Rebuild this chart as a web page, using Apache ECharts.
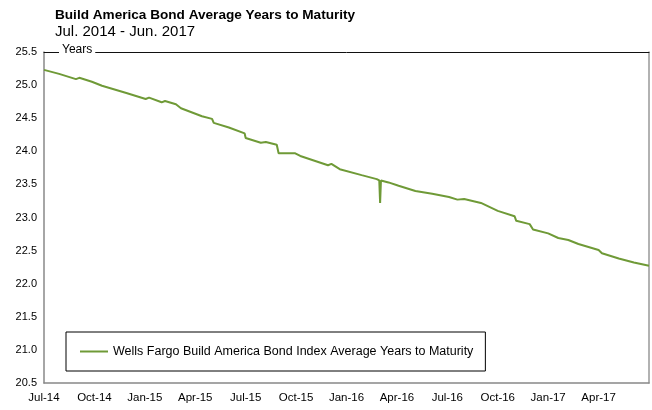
<!DOCTYPE html>
<html>
<head>
<meta charset="utf-8">
<script src="https://cdn.jsdelivr.net/npm/echarts@6/dist/echarts.min.js"></script>
<style>
  html, body { margin: 0; padding: 0; background: #fff; }
  #chart { width: 652px; height: 410px; }
</style>
</head>
<body>
<div id="chart"></div>
<script>
// months since Jul-2014 (0 = Jul 1 2014, 36 = Jul 1 2017)
const monthPos = [
  0, 0.9, 1.9, 2.1, 2.85, 3.45, 4.9, 6.05, 6.25, 7.0, 7.2, 7.85, 8.15, 9.4,
  10.0, 10.1, 11.0, 11.94, 12.0, 12.9, 13.2, 13.85, 13.96, 14.95, 15.25,
  16.9, 17.1, 17.6, 18.9, 19.8, 19.95, 20.0, 20.05, 20.5, 21.1, 22.1, 23.1,
  24.1, 24.6, 25.0, 26.0, 27.0, 28.0, 28.1, 28.9, 29.1, 30.0, 30.6, 31.2,
  31.8, 33.0, 33.2, 34.2, 35.1, 35.15, 36.0,
];
const avgYears = [
  25.23, 25.17, 25.09, 25.11, 25.05, 24.99, 24.88, 24.79, 24.81, 24.74, 24.76,
  24.71, 24.65, 24.53, 24.49, 24.43, 24.36, 24.27, 24.2, 24.13, 24.14, 24.1,
  23.97, 23.97, 23.93, 23.79, 23.81, 23.73, 23.64, 23.58, 23.56, 23.22, 23.56,
  23.53, 23.48, 23.4, 23.36, 23.31, 23.27, 23.28, 23.22, 23.1, 23.02, 22.95,
  22.9, 22.82, 22.76, 22.69, 22.66, 22.6, 22.51, 22.46, 22.38, 22.32, 22.34,
  22.27,
];
const tickLabels = [
  "Jul-14", "Oct-14", "Jan-15", "Apr-15", "Jul-15", "Oct-15",
  "Jan-16", "Apr-16", "Jul-16", "Oct-16", "Jan-17", "Apr-17",
];
const seriesName = "Wells Fargo Build America Bond Index Average Years to Maturity";

const chart = echarts.init(document.getElementById("chart"));
const data = monthPos.map((m, i) => [m, avgYears[i]]);
const green = "#6f9a37";

chart.setOption({
  animation: false,
  title: {
    text: "Build America Bond Average Years to Maturity",
    subtext: "Jul. 2014 - Jun. 2017",
    left: 50,
    top: 3,
    itemGap: 2,
    textStyle: { fontFamily: "Arial, Liberation Sans", fontSize: 13.6, fontWeight: "bold", color: "#000" },
    subtextStyle: { fontFamily: "Arial, Liberation Sans", fontSize: 15, color: "#000" },
  },
  grid: { left: 44, right: 2, top: 52, bottom: 27 },
  legend: {
    left: 66,
    top: 332,
    padding: [13, 12, 13, 14],
    borderColor: "#000",
    borderWidth: 1,
    itemWidth: 28,
    itemHeight: 2,
    icon: "rect",
    textStyle: { fontFamily: "Arial, Liberation Sans", fontSize: 12.5, color: "#000" },
    data: [seriesName],
  },
  xAxis: [
    {
      type: "value",
      min: 0,
      max: 36,
      interval: 3,
      axisLine: { onZero: false, lineStyle: { color: "#888", width: 1.5 } },
      axisTick: { show: false },
      splitLine: { show: false },
      axisLabel: {
        margin: 9,
        fontFamily: "Arial, Liberation Sans",
        fontSize: 11.5,
        color: "#000",
        formatter: (v) => tickLabels[v / 3] || "",
      },
    },
    {
      type: "value",
      position: "top",
      min: 0,
      max: 36,
      axisLine: { show: true, onZero: false, lineStyle: { color: "#111", width: 1 } },
      axisTick: { show: false },
      axisLabel: { show: false },
      splitLine: { show: false },
    },
  ],
  yAxis: [
    {
      type: "value",
      min: 20.5,
      max: 25.5,
      interval: 0.5,
      axisLine: { show: true, onZero: false, lineStyle: { color: "#888", width: 1.5 } },
      axisTick: { show: false },
      splitLine: { show: false },
      axisLabel: {
        margin: 7,
        fontFamily: "Arial, Liberation Sans",
        fontSize: 11,
        color: "#000",
        formatter: (v) => v.toFixed(1),
      },
    },
    {
      type: "value",
      position: "right",
      min: 20.5,
      max: 25.5,
      axisLine: { show: true, onZero: false, lineStyle: { color: "#999", width: 1.5 } },
      axisTick: { show: false },
      axisLabel: { show: false },
      splitLine: { show: false },
    },
  ],
  graphic: [
    {
      type: "text",
      left: 59,
      top: 44,
      z: 100,
      style: {
        text: "Years",
        fontFamily: "Arial, Liberation Sans",
        fontSize: 12,
        fill: "#000",
        backgroundColor: "#fff",
        padding: [0, 3, 0, 3],
      },
    },
  ],
  series: [
    {
      name: seriesName,
      type: "line",
      showSymbol: false,
      symbol: "none",
      lineStyle: { color: green, width: 2 },
      itemStyle: { color: green },
      data: data,
    },
  ],
});
</script>
</body>
</html>
